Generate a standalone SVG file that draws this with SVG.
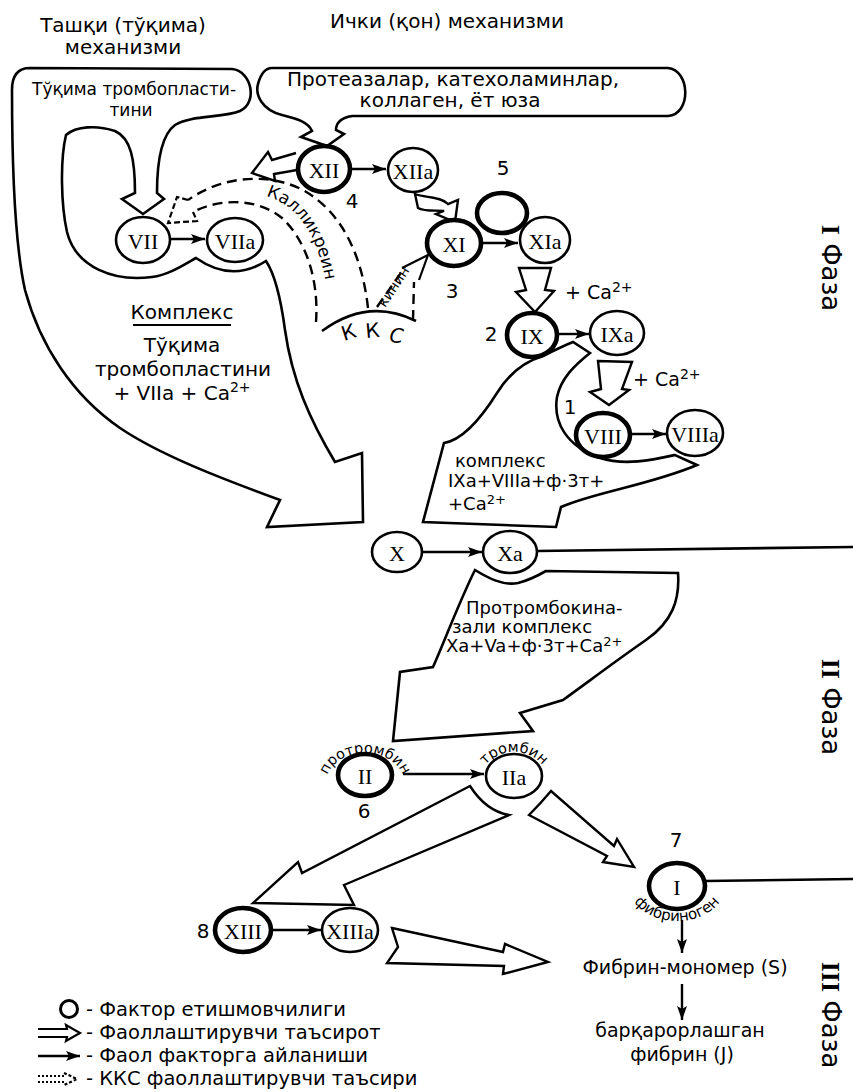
<svg xmlns="http://www.w3.org/2000/svg" width="853" height="1092" viewBox="0 0 853 1092">
<style>
.t{font-family:"DejaVu Sans","Liberation Sans",sans-serif;fill:#000}
.m{text-anchor:middle}
.n{font-family:"Liberation Serif","Times New Roman",serif;font-size:22px;text-anchor:middle;dominant-baseline:central;fill:#000}
.e{fill:#fff;stroke:#000;stroke-width:2.6}
.eb{fill:#fff;stroke:#000;stroke-width:4.6}
.o{fill:#fff;stroke:#000;stroke-width:2.6;stroke-linejoin:miter}
.h{fill:#fff;stroke:#000;stroke-width:2.4;stroke-linejoin:miter}
.d{fill:none;stroke:#000;stroke-width:2.4;stroke-dasharray:10 6}
.ds{fill:none;stroke:#000;stroke-width:2.2;stroke-dasharray:6 3}
.ln{fill:none;stroke:#000;stroke-width:2.6}
.a{fill:none;stroke:#000;stroke-width:2.4;marker-end:url(#ah)}
</style>
<defs>
<marker id="ah" markerUnits="userSpaceOnUse" viewBox="0 0 14 10" refX="14" refY="5" markerWidth="14" markerHeight="10" orient="auto">
<path d="M0,0 L14,5 L0,10 L3,5 Z" fill="#000"/>
</marker>
</defs>
<rect width="853" height="1092" fill="#fff"/>

<g id="titles">
<text class="t m" x="123" y="32" font-size="20">Ташқи (тўқима)</text>
<text class="t m" x="123" y="54" font-size="20">механизми</text>
<text class="t m" x="447" y="28" font-size="20">Ички (қон) механизми</text>
</g>

<g id="connectors">
<path class="o" d="M 30,68 L 232,69 C 252,71 258,103 240,111 C 224,118 190,115 175,125 C 160,136 157,165 157,193 L 164,199 L 143,214 L 122,199 L 135,193 C 135,160 131,138 115,131 C 97,125 76,126 66,135 C 60,160 61,205 67,232 C 76,268 115,282 152,277 C 168,275 182,266 196,258 Q 232,283 266,261 C 276,276 281,300 285,330 C 292,380 310,420 335,462 L 362,453 L 363,522 L 267,527 L 280,500 C 220,478 160,455 120,428 C 72,395 40,345 25,290 C 15,245 12,160 12,90 C 12,76 18,68 30,68 Z"/>
<path class="o" d="M 272,68 L 668,68 C 690,70 692,114 668,116 L 352,116 C 340,118 336,124 336,130 L 344,134 L 327,146 L 301,137 L 312,131 C 308,122 298,119 282,115 C 262,110 255,95 258,84 C 261,73 266,68 272,68 Z"/>
<path class="o" d="M 543,356 C 555,350 563,346 573,342 L 590,353 C 575,365 561,378 557,397 C 553,422 566,446 600,458 C 625,466 652,460 675,455 L 697,465 C 650,485 595,492 561,507 L 556,527 L 423,522 L 444,443 C 462,440 480,420 497,393 C 510,372 526,361 543,356 Z"/>
<path class="o" d="M 475,570 C 488,578 503,586 518,583 C 530,580 539,575 546,571 L 678,573 C 680,600 672,622 646,640 C 617,660 588,682 563,700 L 520,713 L 533,731 L 393,741 L 400,672 L 433,667 C 445,640 460,600 475,570 Z"/>
<path class="h" d="M 296,153 L 272,160 L 268,152 L 252,173 L 275,181 L 274,174 L 297,170"/>
<path class="h" d="M 415,194 C 425,198 440,196 448,204 L 458,200 L 455,222 L 436,214 L 444,211 C 436,210 425,212 418,208 Z"/>
<path class="h" d="M 519,268 L 551,268 L 545,290 L 554,291 L 535,312 L 516,292 L 526,290 Z"/>
<path class="h" d="M 598,361 L 632,362 L 622,389 L 629,390 L 609,405 L 590,392 L 601,389 Z"/>
<path class="h" d="M 470,786 L 302,873 L 298,862 L 253,903 L 354,905 L 344,885 L 509,815 Q 486,811 470,786 Z"/>
<path class="h" d="M 529,815 Q 541,803 551,791 L 614,846 L 617,839 L 634,867 L 603,862 L 607,856 Z"/>
<path class="h" d="M 392,928 L 503,952 L 505,944 L 548,962 L 503,974 L 504,966 L 387,963 L 398,947 Z"/>
<path class="d" d="M 368,308 C 362,255 342,212 303,190 C 268,172 222,176 188,200"/>
<path class="d" d="M 316,322 C 319,280 306,240 282,218 C 258,198 220,198 193,212"/>
<path class="ds" d="M 188,200 L 177,197 L 168,223 L 197,221 L 193,212"/>
<path class="ln" d="M 322,331 Q 368,297 416,321"/>
<path class="d" d="M 377,307 L 405,267"/>
<path class="d" d="M 413,320 L 414,282"/>
<path fill="none" stroke="#000" stroke-width="2.2" d="M 402,268 L 428,255 L 419,280"/>
<line class="a" x1="170" y1="239" x2="205" y2="239"/>
<line class="a" x1="351" y1="169" x2="386" y2="169"/>
<line class="a" x1="482" y1="243" x2="518" y2="243"/>
<line class="a" x1="558" y1="334" x2="589" y2="334"/>
<line class="a" x1="631" y1="434" x2="666" y2="434"/>
<line class="a" x1="422" y1="552" x2="482" y2="552"/>
<line class="a" x1="403" y1="774" x2="484" y2="774"/>
<line class="a" x1="272" y1="930" x2="321" y2="930"/>
<line class="a" x1="682" y1="920" x2="682" y2="953"/>
<line class="a" x1="682" y1="984" x2="682" y2="1020"/>
<path class="ln" d="M 537,551 L 853,547"/>
<path class="ln" d="M 705,881 L 853,879"/>
</g>

<g id="cloud-texts">
<text class="t" x="32" y="95" font-size="17">Тўқима тромбопласти-</text>
<text class="t m" x="131" y="116" font-size="17">тини</text>
<text class="t m" x="453" y="86" font-size="20">Протеазалар, катехоламинлар,</text>
<text class="t m" x="450" y="107" font-size="20">коллаген, ёт юза</text>
<text class="t m" x="182" y="319" font-size="20">Комплекс</text>
<line x1="133" y1="325" x2="231" y2="325" stroke="#000" stroke-width="2"/>
<text class="t m" x="182" y="352" font-size="20">Тўқима</text>
<text class="t m" x="183" y="376" font-size="20">тромбопластини</text>
<text class="t m" x="182" y="400" font-size="20">+ VIIa + Ca<tspan dy="-8" font-size="14">2+</tspan></text>
<text class="t" x="455" y="467" font-size="18">комплекс</text>
<text class="t" x="448" y="487" font-size="18">IXa+VIIIa+ф·3т+</text>
<text class="t" x="448" y="510" font-size="18">+Ca<tspan dy="-6" font-size="13">2+</tspan></text>
<text class="t" x="466" y="614" font-size="18">Протромбокина-</text>
<text class="t" x="452" y="633" font-size="18">зали комплекс</text>
<text class="t" x="446" y="652" font-size="18">Xa+Va+ф·3т+Ca<tspan dy="-6" font-size="13">2+</tspan></text>
<text class="t" x="565" y="299" font-size="19">+ Ca<tspan dy="-7" font-size="14">2+</tspan></text>
<text class="t" x="633" y="386" font-size="19">+ Ca<tspan dy="-7" font-size="14">2+</tspan></text>
</g>

<g id="kkc-labels">
<path id="pk" d="M 266,196 C 300,206 322,240 328,300" fill="none"/>
<text class="t" font-size="17"><textPath href="#pk">Калликреин</textPath></text>
<path id="pkin" d="M 385,308 L 414,264" fill="none"/>
<text class="t" font-size="14"><textPath href="#pkin">кинин</textPath></text>
<text class="t" font-size="20" transform="translate(344,341) rotate(-18)">К</text>
<text class="t" font-size="20" transform="translate(366,338) rotate(-5)">К</text>
<text class="t" font-size="20" font-style="italic" transform="translate(389,342) rotate(5)">С</text>
</g>

<g id="n-VII"><ellipse class="e" cx="143" cy="240" rx="27" ry="23" stroke-width="3"/><text class="n" x="143" y="241">VII</text></g>
<g id="n-VIIa"><ellipse class="e" cx="235" cy="240" rx="28" ry="22"/><text class="n" x="235" y="241">VIIa</text></g>
<g id="n-XII"><ellipse class="eb" cx="324" cy="169" rx="26" ry="23"/><text class="n" x="324" y="170">XII</text><text class="t m" x="352" y="208" font-size="20">4</text></g>
<g id="n-XIIa"><ellipse class="e" cx="413" cy="170" rx="25" ry="22"/><text class="n" x="413" y="171">XIIa</text></g>
<g id="n-5"><ellipse class="eb" cx="502" cy="213" rx="25" ry="20"/><text class="t m" x="503" y="175" font-size="20">5</text></g>
<g id="n-XI"><ellipse class="eb" cx="454" cy="243" rx="27" ry="23"/><text class="n" x="454" y="244">XI</text><text class="t m" x="452" y="298" font-size="20">3</text></g>
<g id="n-XIa"><ellipse class="e" cx="545" cy="240" rx="25" ry="23"/><text class="n" x="545" y="241">XIa</text></g>
<g id="n-IX"><ellipse class="eb" cx="532" cy="335" rx="25" ry="22"/><text class="n" x="532" y="336">IX</text><text class="t m" x="491" y="341" font-size="20">2</text></g>
<g id="n-IXa"><ellipse class="e" cx="617" cy="333" rx="27" ry="22"/><text class="n" x="617" y="334">IXa</text></g>
<g id="n-VIII"><ellipse class="eb" cx="603" cy="435" rx="27" ry="22"/><text class="n" x="603" y="436">VIII</text><text class="t m" x="570" y="414" font-size="20">1</text></g>
<g id="n-VIIIa"><ellipse class="e" cx="695" cy="433" rx="28" ry="23"/><text class="n" x="695" y="434" font-size="21">VIIIa</text></g>
<g id="n-X"><ellipse class="e" cx="397" cy="552" rx="25" ry="20"/><text class="n" x="397" y="553">X</text></g>
<g id="n-Xa"><ellipse class="e" cx="510" cy="552" rx="27" ry="21"/><text class="n" x="510" y="553">Xa</text></g>
<g id="n-II">
<ellipse class="eb" cx="365" cy="775" rx="27" ry="21"/><text class="n" x="365" y="776">II</text>
<path id="pII" d="M 326,783 A 39,30 0 0 1 404,783" fill="none"/>
<text class="t" font-size="14.5" text-anchor="middle"><textPath href="#pII" startOffset="50%">протромбин</textPath></text>
<text class="t m" x="364" y="818" font-size="20">6</text>
</g>
<g id="n-IIa">
<ellipse class="e" cx="514" cy="776" rx="28" ry="22"/><text class="n" x="514" y="777">IIa</text>
<path id="pIIa" d="M 479,783 A 35,31 0 0 1 549,783" fill="none"/>
<text class="t" font-size="14.5" text-anchor="middle"><textPath href="#pIIa" startOffset="50%">тромбин</textPath></text>
</g>
<g id="n-I">
<ellipse class="eb" cx="677" cy="886" rx="28" ry="23"/><text class="n" x="677" y="887">I</text>
<path id="pI" d="M 628,884 A 49,37 0 0 0 726,884" fill="none"/>
<text class="t" font-size="15" text-anchor="middle"><textPath href="#pI" startOffset="50%">фибриноген</textPath></text>
<text class="t m" x="676" y="847" font-size="20">7</text>
</g>
<g id="n-XIII"><ellipse class="eb" cx="243" cy="930" rx="28" ry="22"/><text class="n" x="243" y="931">XIII</text><text class="t m" x="203" y="938" font-size="20">8</text></g>
<g id="n-XIIIa"><ellipse class="e" cx="350" cy="930" rx="28" ry="22"/><text class="n" x="350" y="931" font-size="21">XIIIa</text></g>
<g id="n-fibrin">
<text class="t m" x="685" y="974" font-size="19">Фибрин-мономер (S)</text>
<text class="t m" x="680" y="1037" font-size="19">барқарорлашган</text>
<text class="t m" x="682" y="1061" font-size="19">фибрин (J)</text>
</g>

<g id="phases">
<text class="t" font-size="26" text-anchor="middle" transform="translate(822,268) rotate(90)"><tspan font-family="Liberation Serif" font-weight="bold">I</tspan> Фаза</text>
<text class="t" font-size="26" text-anchor="middle" transform="translate(822,707) rotate(90)"><tspan font-family="Liberation Serif" font-weight="bold">II</tspan> Фаза</text>
<text class="t" font-size="26" text-anchor="middle" transform="translate(822,1015) rotate(90)"><tspan font-family="Liberation Serif" font-weight="bold">III</tspan> Фаза</text>
</g>

<g id="legend">
<circle cx="69" cy="1009" r="8.5" fill="none" stroke="#000" stroke-width="3"/>
<path d="M 38,1029 L 67,1029 L 66,1025 L 80,1033 L 66,1041 L 67,1037 L 38,1037" fill="none" stroke="#000" stroke-width="2.2"/>
<line class="a" x1="38" y1="1056" x2="80" y2="1056"/>
<path d="M 38,1076 L 64,1076 M 38,1082 L 64,1082" fill="none" stroke="#000" stroke-width="2.2" stroke-dasharray="2 2"/>
<path d="M 64,1073 L 77,1079 L 64,1085" fill="none" stroke="#000" stroke-width="2.2" stroke-dasharray="3 2"/>
<text class="t" x="86" y="1016" font-size="19.5">- Фактор етишмовчилиги</text>
<text class="t" x="86" y="1039" font-size="19.5">- Фаоллаштирувчи таъсирот</text>
<text class="t" x="86" y="1062" font-size="19.5">- Фаол факторга айланиши</text>
<text class="t" x="86" y="1085" font-size="19.5">- ККС фаоллаштирувчи таъсири</text>
</g>
</svg>
